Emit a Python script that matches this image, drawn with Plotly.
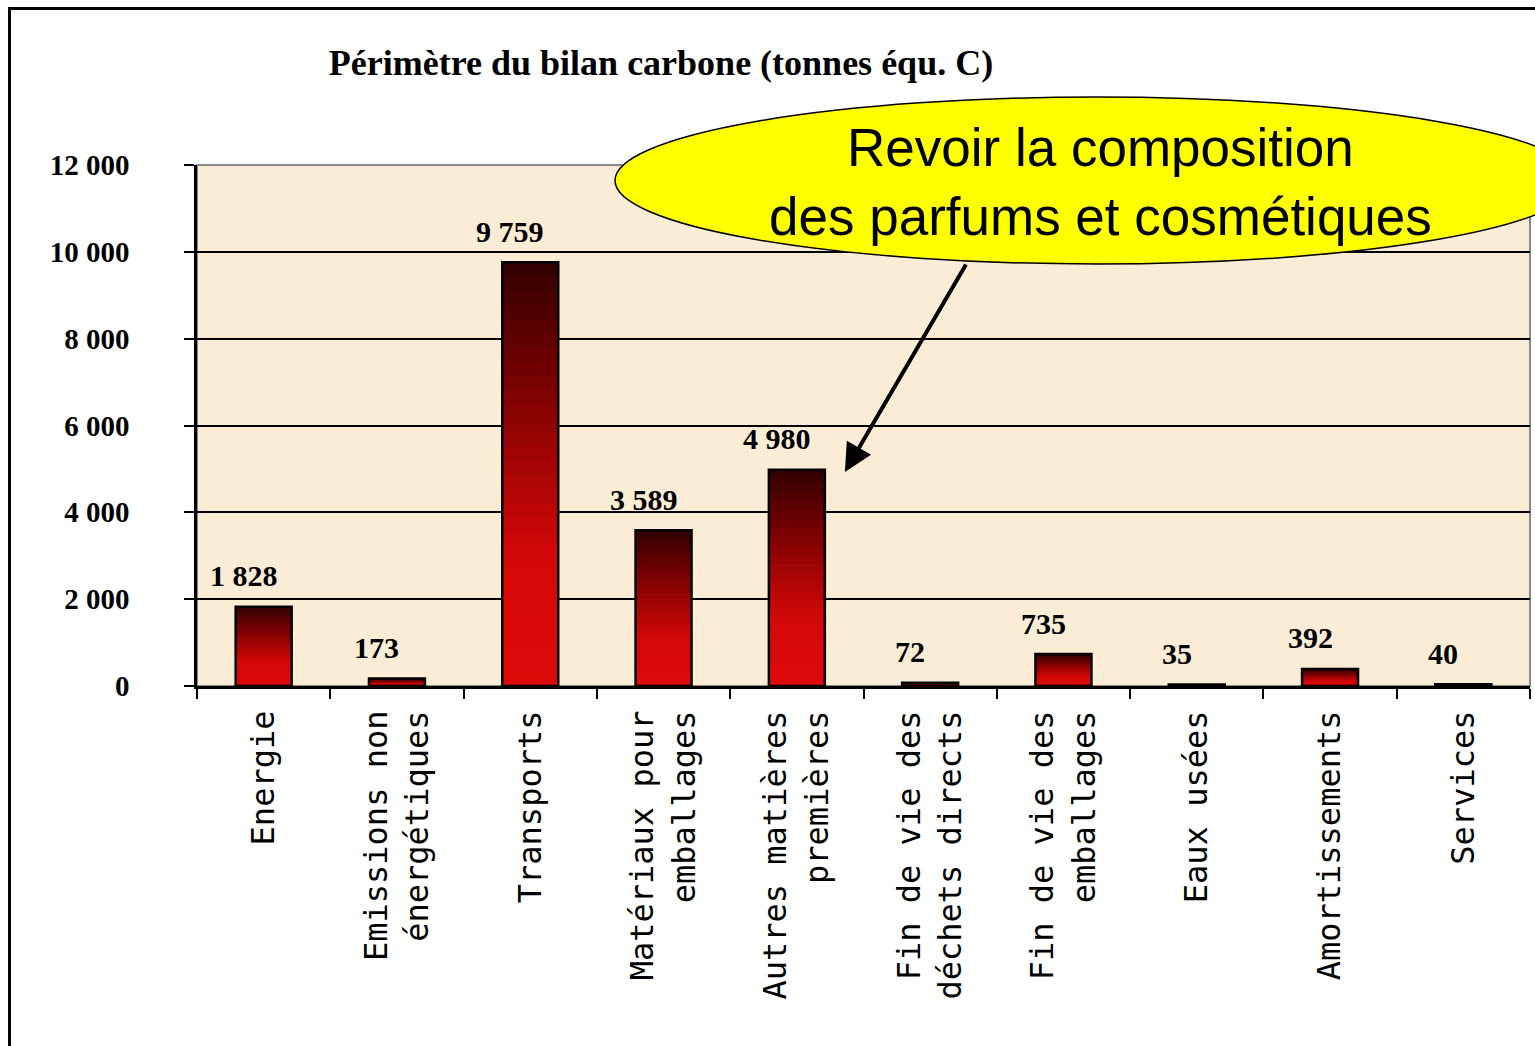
import plotly.graph_objects as go

# ---- data ----
categories = ["Energie", "Emissions non<br>énergétiques", "Transports",
              "Matériaux pour<br>emballages", "Autres matières<br>premières",
              "Fin de vie des<br>déchets directs", "Fin de vie des<br>emballages",
              "Eaux usées", "Amortissements", "Services"]
values = [1828, 173, 9759, 3589, 4980, 72, 735, 35, 392, 40]
value_labels = ["1 828", "173", "9 759", "3 589", "4 980", "72", "735", "35", "392", "40"]
y_tickvals = [0, 2000, 4000, 6000, 8000, 10000, 12000]
y_ticktext = ["0", "2 000", "4 000", "6 000", "8 000", "10 000", "12 000"]
title_text = "Périmètre du bilan carbone (tonnes équ. C)"
callout_text = "Revoir la composition<br>des parfums et cosmétiques"
highlight_index = 4  # bar the callout arrow points at

W, H = 1535, 1046
L, R, T, B = 197, 5, 165, 360
pw, ph = W - L - R, H - T - B

# gradient stops (0 = bottom, 1 = top)
stops = [(0.0, (222, 10, 10)), (0.3, (212, 8, 8)), (0.55, (160, 4, 4)),
         (0.8, (100, 0, 0)), (1.0, (50, 0, 0))]


def grad(t):
    for (t0, c0), (t1, c1) in zip(stops[:-1], stops[1:]):
        if t0 <= t <= t1:
            f = (t - t0) / (t1 - t0)
            return "rgb(%d,%d,%d)" % tuple(round(a + (b - a) * f) for a, b in zip(c0, c1))
    return "rgb(%d,%d,%d)" % stops[-1][1]


fig = go.Figure()
N = 30
for k in range(N):
    c = grad((k + 0.5) / N)
    fig.add_trace(go.Bar(
        x=categories, y=[v / N for v in values], base=[v * k / N for v in values],
        marker=dict(color=c, line=dict(width=1, color=c)),
        hoverinfo="skip", showlegend=False))

# outline
fig.add_trace(go.Bar(
    x=categories, y=values, marker=dict(color="rgba(0,0,0,0)", line=dict(color="black", width=2.5)),
    showlegend=False, hoverinfo="skip"))

for cat, v, lab in zip(categories, values, value_labels):
    fig.add_annotation(x=cat, y=v, text="<b>%s</b>" % lab, showarrow=False,
                       xref="x", yref="y", yanchor="middle", yshift=31, xshift=-20,
                       font=dict(family="Liberation Serif", size=30, color="black"))


def px2paper_x(px):
    return (px - L) / pw


def px2paper_y(py):
    return (H - B - py) / ph


# callout ellipse
fig.add_shape(type="circle", xref="paper", yref="paper",
              x0=px2paper_x(615), x1=px2paper_x(1578),
              y0=px2paper_y(264), y1=px2paper_y(97),
              fillcolor="#FFFF00", line=dict(color="black", width=1.5), layer="above")
fig.add_annotation(xref="paper", yref="paper", x=px2paper_x(1100), y=px2paper_y(182),
                   xanchor="center", yanchor="middle",
                   text=callout_text, showarrow=False, align="center",
                   font=dict(family="Liberation Sans", size=53, color="black"))

# arrow pointing at highlighted bar
fig.add_annotation(xref="x", yref="y", x=highlight_index + 0.36, y=values[highlight_index] - 50,
                   axref="pixel", ayref="pixel", ax=122, ay=-209, text="",
                   showarrow=True, arrowhead=2, arrowsize=1.4, arrowwidth=4, arrowcolor="black")

# outer frame
fig.add_shape(type="rect", xref="paper", yref="paper",
              x0=px2paper_x(9.5), x1=px2paper_x(1600), y0=px2paper_y(1100), y1=px2paper_y(8.5),
              line=dict(color="black", width=3), fillcolor="rgba(0,0,0,0)", layer="below")

# plot area border (grey)
fig.add_shape(type="rect", xref="paper", yref="paper", x0=0, x1=1, y0=0, y1=1,
              line=dict(color="#8a8a8a", width=2), layer="below")

fig.update_layout(
    width=W, height=H, autosize=False,
    margin=dict(l=L, r=R, t=T, b=B),
    paper_bgcolor="white", plot_bgcolor="#FBEDD5",
    barmode="overlay", bargap=0.58,
    title=dict(text="<b>%s</b>" % title_text, x=px2paper_x(661), xref="paper", xanchor="center",
               y=1 - 62 / H, yref="container", yanchor="middle",
               font=dict(family="Liberation Serif", size=36, color="black")),
    showlegend=False,
)
fig.update_xaxes(
    type="category", categoryorder="array", categoryarray=categories,
    tickangle=-90, tickson="boundaries", ticks="outside", ticklen=10, tickwidth=2, tickcolor="black",
    showline=True, linecolor="black", linewidth=2.5, showgrid=False, ticklabelstandoff=9,
    tickfont=dict(family="DejaVu Sans Mono", size=32, color="black"))
fig.update_yaxes(
    range=[0, 12000], tickmode="array", tickvals=y_tickvals, ticktext=y_ticktext,
    ticks="outside", ticklen=10, tickwidth=2, tickcolor="black",
    showline=True, linecolor="black", linewidth=2.5, showgrid=True, gridcolor="black", gridwidth=2,
    zeroline=False, ticklabelstandoff=49,
    tickfont=dict(family="Liberation Serif", size=29, color="black", weight="bold"))

fig.write_html("out.html", post_script="document.body.style.margin='0px';",
               config={"displayModeBar": False})
